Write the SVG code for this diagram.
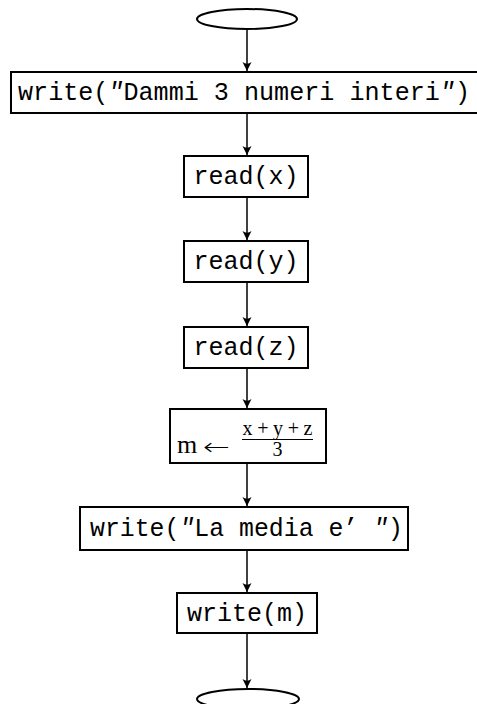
<svg xmlns="http://www.w3.org/2000/svg" width="477" height="704" viewBox="0 0 477 704">
<style>
.box{fill:#fff;stroke:#000;stroke-width:2}
.term{fill:#fff;stroke:#000;stroke-width:2}
.tt{font-family:"Liberation Mono","DejaVu Sans Mono",monospace;font-size:25px;fill:#000}
.q{font-style:italic}
.rm{font-family:"Liberation Serif","DejaVu Serif",serif;fill:#000}
.conn line{stroke:#000;stroke-width:1.5;marker-end:url(#ah)}
</style>
<defs>
<marker id="ah" markerUnits="userSpaceOnUse" markerWidth="12" markerHeight="12" viewBox="-10 -6 12 12" refX="0" refY="0" orient="auto">
<path d="M0,0 L-9,-4.5 Q-5.5,0 -9,4.5 Z" fill="#000"/>
</marker>
</defs>
<rect width="477" height="704" fill="#fff"/>
<g id="conns" class="conn">
<line x1="247" y1="29" x2="247" y2="71"/>
<line x1="247" y1="113" x2="247" y2="155"/>
<line x1="247" y1="197" x2="247" y2="240"/>
<line x1="247" y1="282" x2="247" y2="326"/>
<line x1="247" y1="368" x2="247" y2="408"/>
<line x1="247" y1="463" x2="247" y2="506"/>
<line x1="247" y1="550" x2="247" y2="592"/>
<line x1="247" y1="633" x2="247" y2="688"/>
</g>
<g id="start"><ellipse class="term" cx="247" cy="19" rx="50" ry="10"/></g>
<g id="n1"><rect class="box" x="11" y="72" width="472" height="41"/><text class="tt" x="18" y="100" textLength="452" lengthAdjust="spacingAndGlyphs">write(<tspan class="q">″</tspan>Dammi 3 numeri interi<tspan class="q">″</tspan>)</text></g>
<g id="n2"><rect class="box" x="184" y="156" width="124" height="41"/><text class="tt" x="246" y="184" text-anchor="middle">read(x)</text></g>
<g id="n3"><rect class="box" x="184" y="241" width="124" height="41"/><text class="tt" x="246" y="269" text-anchor="middle">read(y)</text></g>
<g id="n4"><rect class="box" x="184" y="327" width="124" height="41"/><text class="tt" x="246" y="355" text-anchor="middle">read(z)</text></g>
<g id="n5"><rect class="box" x="170" y="409" width="156" height="54"/>
<text class="rm" x="177" y="453" font-size="26">m</text>
<text x="203" y="455" font-size="24" font-weight="200" font-family="DejaVu Sans, sans-serif" textLength="27" lengthAdjust="spacingAndGlyphs">←</text>
<text class="rm" x="277.5" y="435" font-size="20" text-anchor="middle" textLength="70" lengthAdjust="spacing">x+y+z</text>
<line x1="242" y1="439.5" x2="313" y2="439.5" stroke="#000" stroke-width="1.2"/>
<text class="rm" x="277.5" y="456" font-size="20" text-anchor="middle">3</text>
</g>
<g id="n6"><rect class="box" x="80" y="507" width="328" height="43"/><text class="tt" x="90" y="536" textLength="313" lengthAdjust="spacingAndGlyphs">write(<tspan class="q">″</tspan>La media e’ <tspan class="q">″</tspan>)</text></g>
<g id="n7"><rect class="box" x="177" y="593" width="140" height="40"/><text class="tt" x="247" y="621" text-anchor="middle">write(m)</text></g>
<g id="end"><ellipse class="term" cx="248" cy="699" rx="51" ry="10"/></g>
</svg>
